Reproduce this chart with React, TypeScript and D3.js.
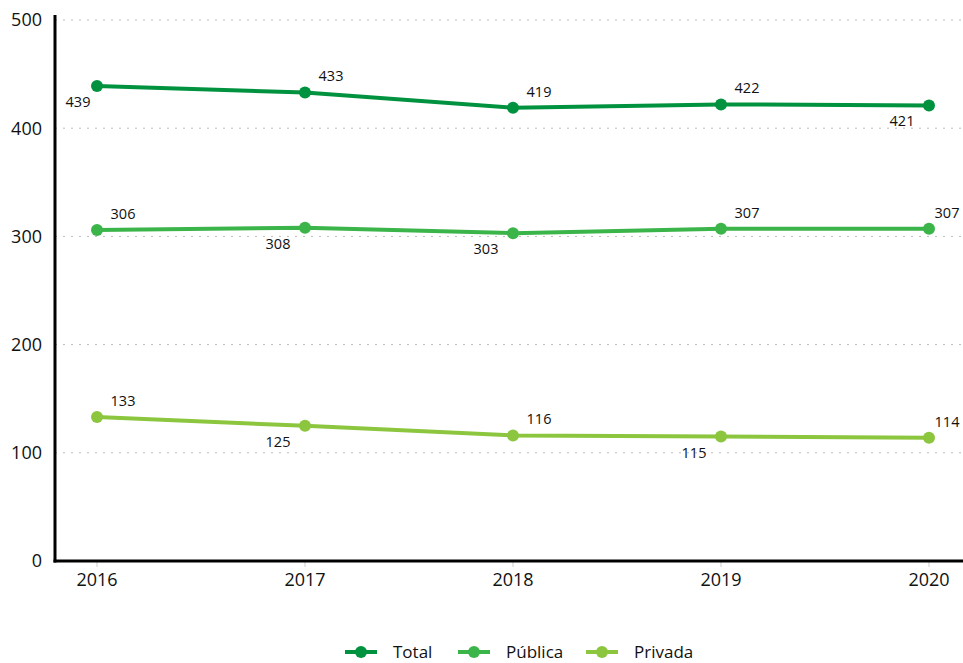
import React from "react";
import * as d3 from "d3";

const years = ["2016", "2017", "2018", "2019", "2020"];
const totalValues = [439, 433, 419, 422, 421];
const publicaValues = [306, 308, 303, 307, 307];
const privadaValues = [133, 125, 116, 115, 114];
// label placement: "ar" above-right, "bl" below-left
const totalPos = ["bl", "ar", "ar", "ar", "bl"];
const publicaPos = ["ar", "bl", "bl", "ar", "ar"];
const privadaPos = ["ar", "bl", "ar", "bl", "ar"];
const yTicks = [0, 100, 200, 300, 400, 500];

const series = [
  { name: "Total", values: totalValues, pos: totalPos, color: "#00923f" },
  { name: "Pública", values: publicaValues, pos: publicaPos, color: "#3bb54a" },
  { name: "Privada", values: privadaValues, pos: privadaPos, color: "#8cc63f" },
];

const W = 963, H = 663;
const x0 = 55, x1 = 963, yTop = 20, yBot = 561;
const font = "'Open Sans', 'Liberation Sans', sans-serif";

export default function App() {
  const x = d3.scalePoint<string>().domain(years).range([97, 929]);
  const y = d3.scaleLinear().domain([0, 500]).range([yBot, yTop]);
  const line = d3.line<number>().x((_, i) => x(years[i])!).y((d) => y(d));
  const legendX = [345, 458, 586];
  const legendY = 652;
  return (
    <svg width={W} height={H} style={{ position: "absolute", left: 0, top: 0, background: "#fff" }} fontFamily={font}>
      {yTicks.filter((t) => t > 0).map((t) => (
        <line key={t} x1={x0} x2={x1} y1={y(t)} y2={y(t)} stroke="#bbb" strokeWidth={1} strokeDasharray="2,6" />
      ))}
      {years.map((yr) => (
        <line key={yr} x1={x(yr)} x2={x(yr)} y1={yBot} y2={yBot + 6} stroke="#ccc" strokeWidth={1} />
      ))}
      <line x1={x0} x2={x0} y1={15} y2={yBot + 1.5} stroke="#000" strokeWidth={3} />
      <line x1={x0 - 1.5} x2={x1} y1={yBot} y2={yBot} stroke="#000" strokeWidth={3} />
      {yTicks.map((t) => (
        <text key={t} x={42} y={y(t)} dy="0.35em" textAnchor="end" fontSize={18} fill="#111">{t}</text>
      ))}
      {years.map((yr) => (
        <text key={yr} x={x(yr)} y={586} textAnchor="middle" fontSize={18} fill="#111">{yr}</text>
      ))}
      {series.map((s) => (
        <g key={s.name}>
          <path d={line(s.values)!} fill="none" stroke={s.color} strokeWidth={4} />
          {s.values.map((v, i) => (
            <circle key={i} cx={x(years[i])} cy={y(v)} r={6} fill={s.color} />
          ))}
          {s.values.map((v, i) => {
            const ar = s.pos[i] === "ar";
            const cx = Math.max(78, Math.min(947, x(years[i])! + (ar ? 26 : -27)));
            return (
              <text key={"l" + i} x={cx} y={y(v) + (ar ? -11 : 21)}
                textAnchor="middle" fontSize={14.5} fill="#111">{v}</text>
            );
          })}
        </g>
      ))}
      {series.map((s, i) => (
        <g key={"lg" + s.name}>
          <line x1={legendX[i]} x2={legendX[i] + 32} y1={legendY} y2={legendY} stroke={s.color} strokeWidth={4} />
          <circle cx={legendX[i] + 16} cy={legendY} r={6} fill={s.color} />
          <text x={legendX[i] + 48} y={legendY + 6} fontSize={17} fill="#111">{s.name}</text>
        </g>
      ))}
    </svg>
  );
}
